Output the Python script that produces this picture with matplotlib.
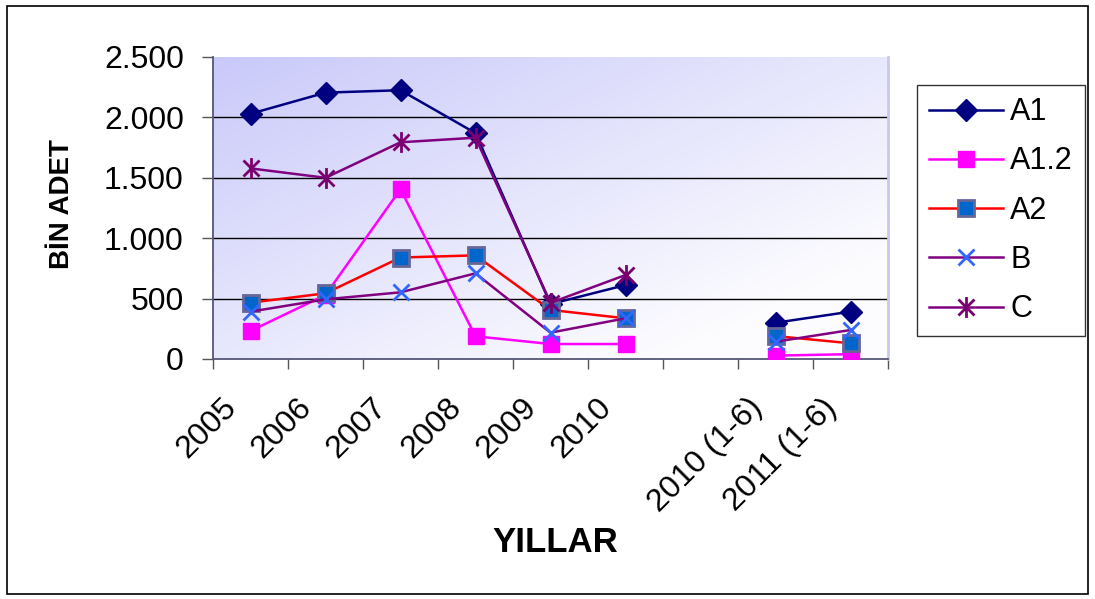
import numpy as np
import matplotlib
matplotlib.use("Agg")
import matplotlib.pyplot as plt
from matplotlib.path import Path
from matplotlib.patches import Rectangle
from matplotlib.ticker import FuncFormatter

plt.rcParams['font.family'] = ['Liberation Sans', 'DejaVu Sans']

nan = np.nan
years = ["2005", "2006", "2007", "2008", "2009", "2010", "", "2010 (1-6)", "2011 (1-6)"]
a1 = [2030, 2205, 2225, 1870, 455, 612, nan, 300, 392]
a12 = [232, 530, 1405, 188, 124, 124, nan, 28, 40]
a2 = [466, 544, 840, 858, 406, 337, nan, 190, 130]
b = [392, 494, 552, 709, 218, 337, nan, 143, 240]
c = [1578, 1500, 1794, 1832, 465, 695, nan, nan, nan]

# excel style star: X with a vertical bar
star = Path([(-1, -1), (1, 1), (-1, 1), (1, -1), (0, -1.3), (0, 1.3)],
            [Path.MOVETO, Path.LINETO, Path.MOVETO, Path.LINETO, Path.MOVETO, Path.LINETO])

fig = plt.figure(figsize=(10.95, 5.99), dpi=100)
fig.patches.append(Rectangle((0.006, 0.008), 0.988, 0.982, transform=fig.transFigure,
                             fill=False, edgecolor='black', linewidth=1.2))
ax = fig.add_axes([213 / 1095, 1 - 359 / 599, 675 / 1095, 302 / 599])

# gradient background, darker top-left
gx, gy = np.meshgrid(np.linspace(0, 1, 200), np.linspace(0, 1, 200))
t = np.clip(0.6 * gx + 0.6 * gy, 0, 1)
c0 = np.array([0.79, 0.79, 0.98])
c1 = np.array([0.99, 0.99, 1.0])
img = c0[None, None, :] * (1 - t[..., None]) + c1[None, None, :] * t[..., None]
ax.imshow(img, extent=[0, 1, 0, 1], transform=ax.transAxes, aspect='auto', zorder=0, origin='upper')

x = np.arange(len(years))
ax.plot(x, a1, color='#000080', lw=1.8, marker='D', ms=11, mfc='#000080', mec='#000080', label='A1', zorder=3)
ax.plot(x, a12, color='#FF00FF', lw=1.8, marker='s', ms=11, mfc='#FF00FF', mec='#FF00FF', label='A1.2', zorder=3)
ax.plot(x, a2, color='#FF0000', lw=1.8, marker='s', ms=11, mfc='#0066CC', mec='#666699', mew=2, label='A2', zorder=3)
ax.plot(x, b, color='#800080', lw=1.8, marker='x', ms=12, mec='#3366FF', mew=2, label='B', zorder=3)
ax.plot(x, c, color='#800080', lw=1.8, marker=star, ms=15, mec='#7A0070', mew=2, label='C', zorder=3)

ax.set_xlim(-0.5, len(years) - 0.5)
ax.set_ylim(0, 2500)
ax.set_yticks([0, 500, 1000, 1500, 2000, 2500])
ax.yaxis.set_major_formatter(FuncFormatter(lambda v, p: f"{int(v):,}".replace(",", ".")))
for v in [500, 1000, 1500, 2000]:
    ax.axhline(v, color='black', lw=1, zorder=1)

# boundary ticks as major, labels on hidden minor ticks nudged left like excel
ax.set_xticks(np.arange(len(years) + 1) - 0.5)
ax.set_xticklabels([])
ax.set_xticks(x - 0.24, minor=True)
ax.set_xticklabels(years, minor=True, rotation=45, ha='right', va='center',
                   rotation_mode='anchor', fontsize=23)
ax.tick_params(axis='x', which='minor', length=0, pad=32)
ax.tick_params(axis='x', which='major', length=7, width=1, color='#555555', direction='out')
ax.tick_params(axis='y', length=8, width=1, color='#555555', direction='out', labelsize=23, pad=13)

ax.spines['top'].set_visible(False)
ax.spines['right'].set_color('#C8C8F0')
ax.spines['right'].set_linewidth(2)
for s in ['left', 'bottom']:
    ax.spines[s].set_color('#555577')
    ax.spines[s].set_linewidth(1.3)

fig.text(62 / 1095, 1 - 204 / 599, "BİN ADET", rotation=90, ha='center', va='center',
         fontsize=20, fontweight='bold')
fig.text(555 / 1095, 1 - 543 / 599, "YILLAR", ha='center', va='center',
         fontsize=25, fontweight='bold')

leg = fig.legend(loc='upper left', bbox_to_anchor=(917 / 1095, 1 - 85 / 599), fontsize=22,
                 frameon=True, fancybox=False, edgecolor='black', handlelength=2.4,
                 labelspacing=0.63, borderpad=0.4, handletextpad=0.25, borderaxespad=0)
leg.get_frame().set_linewidth(1)

fig.savefig("out.png", dpi=100)
